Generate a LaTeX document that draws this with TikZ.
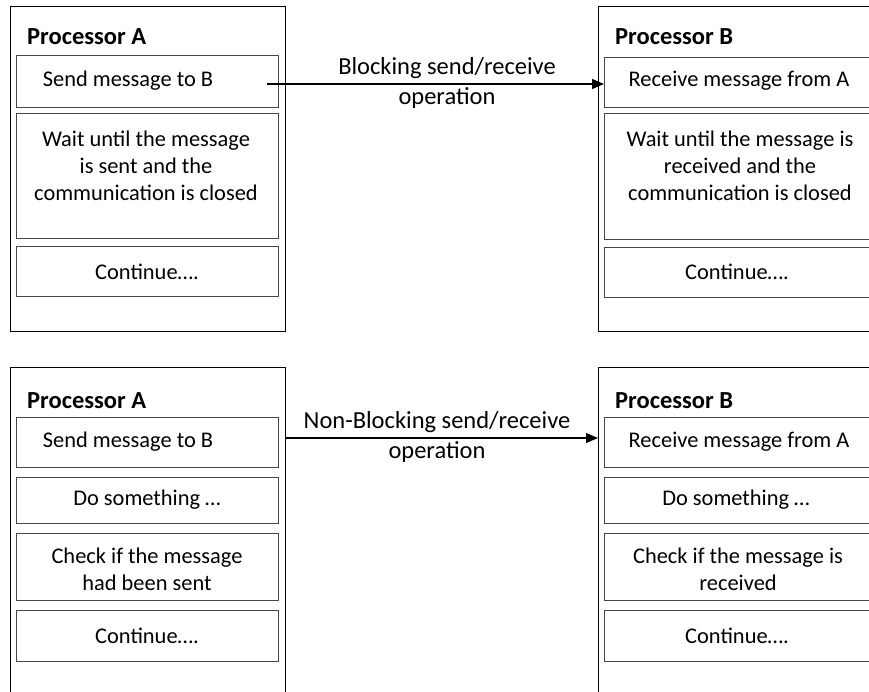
\documentclass[tikz,border=0pt]{standalone}
\usepackage{fontspec}
\setmainfont{Carlito}
\usetikzlibrary{arrows.meta}
\begin{document}
\begin{tikzpicture}[x=1pt,y=-1pt,
  frame/.style={draw=black, line width=1.3pt, anchor=north west, inner sep=0pt, minimum width=#1},
  frame/.default=275.5pt,
  stepbox/.style={draw=black!72, line width=1pt, anchor=north west, inner sep=0pt},
  awide/.style={minimum width=262pt},
  bwide/.style={minimum width=268pt},
  txt/.style={align=center, font=\fontsize{22.4}{27}\selectfont, inner sep=0pt},
  lbl/.style={align=center, font=\fontsize{24.5}{29.5}\selectfont, inner sep=0pt},
  head/.style={anchor=base west, font=\fontsize{24.5}{28}\selectfont\bfseries, inner sep=0pt},
  msg/.style={line width=1.1pt, -{Triangle[length=12pt,width=10pt]}}]
\clip (0,0) rectangle (869,692);

% ---------- blocking: processor A ----------
\node[frame, minimum height=325pt] (pa1) at (9.5,6) {};
\node[head] (ha1) at (27,45) {Processor A};
\node[stepbox, awide, minimum height=52pt] (a1s) at (16,55) {};
\node[txt] (a1st) at (128,81) {Send message to B};
\node[stepbox, awide, minimum height=125pt] (a1w) at (16,113) {};
\node[txt] (a1wt) at (146,166) {Wait until the message\\is sent and the\\communication is closed};
\node[stepbox, awide, minimum height=50pt] (a1c) at (16,246) {};
\node[txt] (a1ct) at (147,272) {Continue….};

% ---------- blocking: processor B ----------
\node[frame=280pt, minimum height=325pt] (pb1) at (598,6) {};
\node[head] (hb1) at (615,45) {Processor B};
\node[stepbox, bwide, minimum height=50pt] (b1r) at (604,57) {};
\node[txt] (b1rt) at (739,81) {Receive message from A};
\node[stepbox, bwide, minimum height=126pt] (b1w) at (604,113) {};
\node[txt] (b1wt) at (740,166) {Wait until the message is\\received and the\\communication is closed};
\node[stepbox, bwide, minimum height=50pt] (b1c) at (604,247) {};
\node[txt] (b1ct) at (737,272) {Continue….};

% blocking message
\coordinate (s1) at (267,84);
\draw[msg] (s1) -- (s1 -| b1r.west);
\node[lbl] (l1) at (447,83) {Blocking send/receive\\operation};

% ---------- non-blocking: processor A ----------
\node[frame, minimum height=340pt] (pa2) at (9.5,367) {};
\node[head] (ha2) at (27,408) {Processor A};
\node[stepbox, awide, minimum height=50pt] (a2s) at (16,417) {};
\node[txt] (a2st) at (128,442) {Send message to B};
\node[stepbox, awide, minimum height=46pt] (a2d) at (16,477) {};
\node[txt] (a2dt) at (147,500) {Do something …};
\node[stepbox, awide, minimum height=67pt] (a2k) at (16,533) {};
\node[txt] (a2kt) at (147,569) {Check if the message\\had been sent};
\node[stepbox, awide, minimum height=51pt] (a2c) at (16,610) {};
\node[txt] (a2ct) at (147,636) {Continue….};

% ---------- non-blocking: processor B ----------
\node[frame=280pt, minimum height=340pt] (pb2) at (598,367) {};
\node[head] (hb2) at (615,408) {Processor B};
\node[stepbox, bwide, minimum height=50pt] (b2r) at (604,417) {};
\node[txt] (b2rt) at (739,442) {Receive message from A};
\node[stepbox, bwide, minimum height=46pt] (b2d) at (604,477) {};
\node[txt] (b2dt) at (736,500) {Do something …};
\node[stepbox, bwide, minimum height=67pt] (b2k) at (604,533) {};
\node[txt] (b2kt) at (738,569) {Check if the message is\\received};
\node[stepbox, bwide, minimum height=51pt] (b2c) at (604,610) {};
\node[txt] (b2ct) at (737,636) {Continue….};

% non-blocking message
\coordinate (y2) at (0,438);
\draw[msg] (pa2.east |- y2) -- (pb2.west |- y2);
\node[lbl] (l2) at (437,437) {Non-Blocking send/receive\\operation};
\end{tikzpicture}
\end{document}
